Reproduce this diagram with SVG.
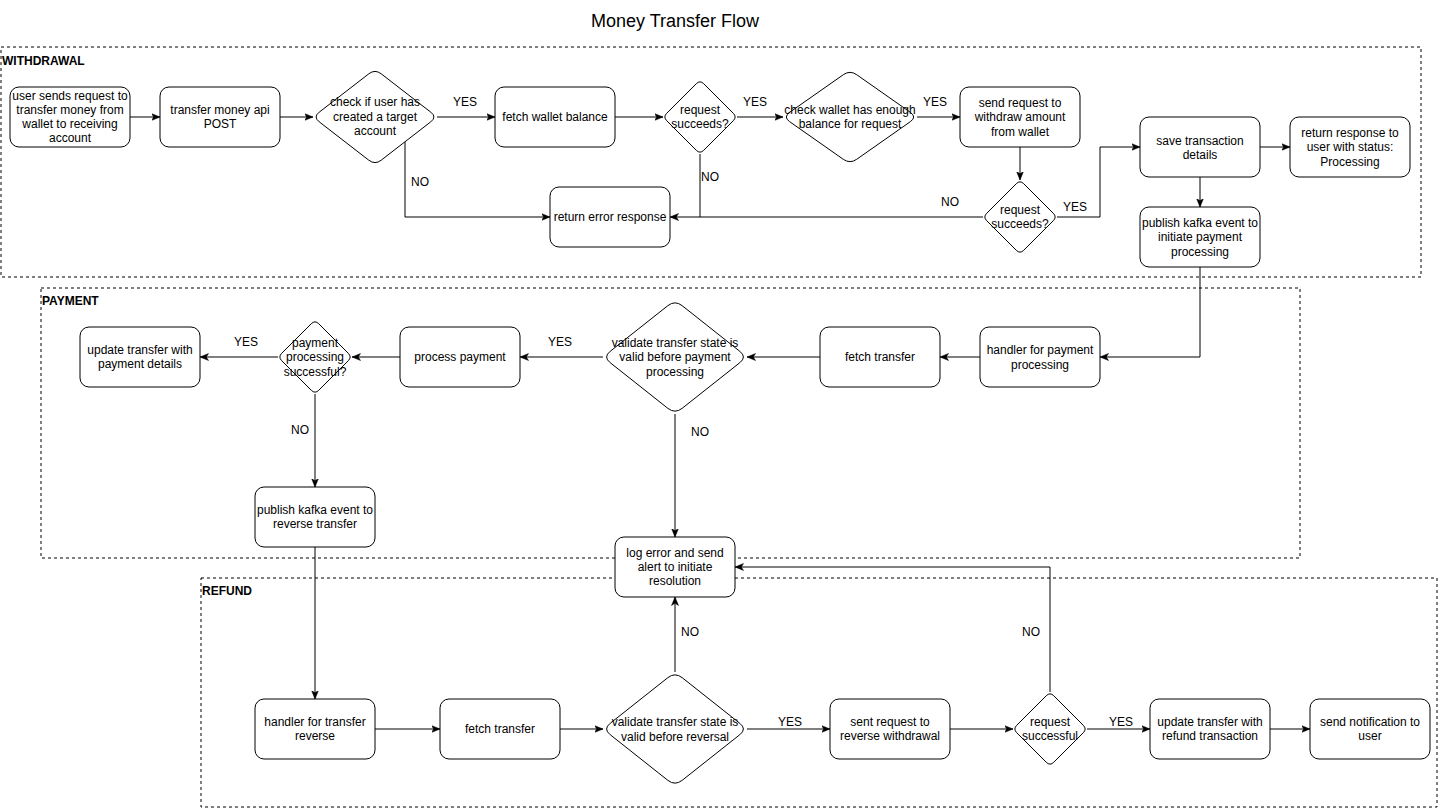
<svg xmlns="http://www.w3.org/2000/svg" width="1441" height="808" viewBox="0 0 1441 808">
<style>
text{font-family:"Liberation Sans",Arial,Helvetica,sans-serif;font-size:12px;fill:#000}
.t{text-anchor:middle}
.title{font-size:18px;text-anchor:middle}
.lane{font-weight:bold}
.box{fill:#fff;stroke:#000;stroke-width:1}
.cont{fill:none;stroke:#000;stroke-width:1;stroke-dasharray:3 3}
.edge{fill:none;stroke:#000;stroke-width:1}
.arr{marker-end:url(#ah)}
</style>
<defs>
<marker id="ah" markerWidth="9" markerHeight="8" viewBox="0 0 9 8" refX="8.5" refY="4" orient="auto" markerUnits="userSpaceOnUse">
<path d="M0,0.5 L8.5,4 L0,7.5 L2.2,4 Z" fill="#000" stroke="#000" stroke-width="0.5"/>
</marker>
<path id="dS" d="M-3.7,-33.3 Q0,-37 3.7,-33.3 L33.3,-3.7 Q37,0 33.3,3.7 L3.7,33.3 Q0,37 -3.7,33.3 L-33.3,3.7 Q-37,0 -33.3,-3.7 Z"/>
<path id="dC" d="M-6.2,-43.2 Q0,-48 6.2,-43.2 L55.8,-4.8 Q62,0 55.8,4.8 L6.2,43.2 Q0,48 -6.2,43.2 L-55.8,4.8 Q-62,0 -55.8,-4.8 Z"/>
<path id="dF" d="M-6.7,-42.3 Q0,-47 6.7,-42.3 L60.3,-4.7 Q67,0 60.3,4.7 L6.7,42.3 Q0,47 -6.7,42.3 L-60.3,4.7 Q-67,0 -60.3,-4.7 Z"/>
<path id="dL" d="M-7.2,-51.3 Q0,-57 7.2,-51.3 L64.8,-5.7 Q72,0 64.8,5.7 L7.2,51.3 Q0,57 -7.2,51.3 L-64.8,5.7 Q-72,0 -64.8,-5.7 Z"/>
</defs>
<rect width="1441" height="808" fill="#fff"/>
<text class="title" x="675" y="27">Money Transfer Flow</text>

<g id="containers">
<g id="withdrawal"><rect class="cont" x="1" y="47" width="1420" height="230"/><text class="lane" x="2" y="65">WITHDRAWAL</text></g>
<g id="payment"><rect class="cont" x="41" y="288" width="1259" height="270"/><text class="lane" x="42" y="305">PAYMENT</text></g>
<g id="refund"><rect class="cont" x="201" y="578" width="1236" height="229"/><text class="lane" x="202" y="595">REFUND</text></g>
</g>

<g id="connectors">
<path class="edge arr" d="M130,117 H160"/>
<path class="edge arr" d="M280,117 H313"/>
<path class="edge arr" d="M437,117 H495"/>
<path class="edge arr" d="M615,117 H663"/>
<path class="edge arr" d="M737,117 H783"/>
<path class="edge arr" d="M917,117 H960"/>
<path class="edge arr" d="M1020,147 V180"/>
<path class="edge arr" d="M983,217 H670"/>
<path class="edge arr" d="M405,142 V217 H550"/>
<path class="edge" d="M700,154 V217"/>
<path class="edge arr" d="M1057,217 H1100 V147 H1140"/>
<path class="edge arr" d="M1260,147 H1290"/>
<path class="edge arr" d="M1200,177 V207"/>
<path class="edge arr" d="M1200,267 V357 H1100"/>
<path class="edge arr" d="M980,357 H940"/>
<path class="edge arr" d="M820,357 H747"/>
<path class="edge arr" d="M603,357 H520"/>
<path class="edge arr" d="M400,357 H352"/>
<path class="edge arr" d="M278,357 H200"/>
<path class="edge arr" d="M315,394 V487"/>
<path class="edge arr" d="M675,414 V537"/>
<path class="edge arr" d="M315,547 V699"/>
<path class="edge arr" d="M375,729 H440"/>
<path class="edge arr" d="M560,729 H603"/>
<path class="edge arr" d="M675,672 V597"/>
<path class="edge arr" d="M747,729 H830"/>
<path class="edge arr" d="M950,729 H1013"/>
<path class="edge arr" d="M1050,692 V567 H735"/>
<path class="edge arr" d="M1087,729 H1150"/>
<path class="edge arr" d="M1270,729 H1310"/>
<g id="edge-labels">
<text class="t" x="465" y="106">YES</text>
<text class="t" x="420" y="186">NO</text>
<text class="t" x="755" y="106">YES</text>
<text class="t" x="935" y="106">YES</text>
<text class="t" x="710" y="181">NO</text>
<text class="t" x="950" y="206">NO</text>
<text class="t" x="1075" y="211">YES</text>
<text class="t" x="560" y="346">YES</text>
<text class="t" x="246" y="346">YES</text>
<text class="t" x="300" y="434">NO</text>
<text class="t" x="700" y="436">NO</text>
<text class="t" x="690" y="636">NO</text>
<text class="t" x="790" y="726">YES</text>
<text class="t" x="1031" y="636">NO</text>
<text class="t" x="1121" y="726">YES</text>
</g>
</g>

<g id="n-user-request"><rect class="box" x="10" y="87" width="120" height="60" rx="9"/>
<text class="t" x="70" y="100">user sends request to</text><text class="t" x="70" y="114">transfer money from</text><text class="t" x="70" y="128">wallet to receiving</text><text class="t" x="70" y="142">account</text></g>
<g id="n-api"><rect class="box" x="160" y="87" width="120" height="60" rx="9"/>
<text class="t" x="220" y="114">transfer money api</text><text class="t" x="220" y="128">POST</text></g>
<g id="n-check-target"><use href="#dC" class="box" transform="translate(375,117)"/>
<text class="t" x="375" y="106">check if user has</text><text class="t" x="375" y="121">created a target</text><text class="t" x="375" y="135">account</text></g>
<g id="n-fetch-balance"><rect class="box" x="495" y="87" width="120" height="60" rx="9"/>
<text class="t" x="555" y="121">fetch wallet balance</text></g>
<g id="n-req-succeeds-1"><use href="#dS" class="box" transform="translate(700,117)"/>
<text class="t" x="700" y="114">request</text><text class="t" x="700" y="128">succeeds?</text></g>
<g id="n-check-balance"><use href="#dF" class="box" transform="translate(850,117)"/>
<text class="t" x="850" y="114">check wallet has enough</text><text class="t" x="850" y="128">balance for request</text></g>
<g id="n-withdraw"><rect class="box" x="960" y="87" width="120" height="60" rx="9"/>
<text class="t" x="1020" y="107">send request to</text><text class="t" x="1020" y="121">withdraw amount</text><text class="t" x="1020" y="136">from wallet</text></g>
<g id="n-req-succeeds-2"><use href="#dS" class="box" transform="translate(1020,217)"/>
<text class="t" x="1020" y="214">request</text><text class="t" x="1020" y="228">succeeds?</text></g>
<g id="n-error"><rect class="box" x="550" y="187" width="120" height="60" rx="9"/>
<text class="t" x="610" y="221">return error response</text></g>
<g id="n-save"><rect class="box" x="1140" y="117" width="120" height="60" rx="9"/>
<text class="t" x="1200" y="145">save transaction</text><text class="t" x="1200" y="159">details</text></g>
<g id="n-return-processing"><rect class="box" x="1290" y="117" width="120" height="60" rx="9"/>
<text class="t" x="1350" y="137">return response to</text><text class="t" x="1350" y="151">user with status:</text><text class="t" x="1350" y="166">Processing</text></g>
<g id="n-publish-payment"><rect class="box" x="1140" y="207" width="120" height="60" rx="9"/>
<text class="t" x="1200" y="227">publish kafka event to</text><text class="t" x="1200" y="241">initiate payment</text><text class="t" x="1200" y="256">processing</text></g>

<g id="n-handler-payment"><rect class="box" x="980" y="327" width="120" height="60" rx="9"/>
<text class="t" x="1040" y="354">handler for payment</text><text class="t" x="1040" y="369">processing</text></g>
<g id="n-fetch-transfer-1"><rect class="box" x="820" y="327" width="120" height="60" rx="9"/>
<text class="t" x="880" y="361">fetch transfer</text></g>
<g id="n-validate-payment"><use href="#dL" class="box" transform="translate(675,357)"/>
<text class="t" x="675" y="347">validate transfer state is</text><text class="t" x="675" y="361">valid before payment</text><text class="t" x="675" y="376">processing</text></g>
<g id="n-process-payment"><rect class="box" x="400" y="327" width="120" height="60" rx="9"/>
<text class="t" x="460" y="361">process payment</text></g>
<g id="n-payment-success"><use href="#dS" class="box" transform="translate(315,357)"/>
<text class="t" x="315" y="347">payment</text><text class="t" x="315" y="361">processing</text><text class="t" x="315" y="376">successful?</text></g>
<g id="n-update-payment"><rect class="box" x="80" y="327" width="120" height="60" rx="9"/>
<text class="t" x="140" y="354">update transfer with</text><text class="t" x="140" y="368">payment details</text></g>
<g id="n-publish-reverse"><rect class="box" x="255" y="487" width="120" height="60" rx="9"/>
<text class="t" x="315" y="514">publish kafka event to</text><text class="t" x="315" y="528">reverse transfer</text></g>
<g id="n-log-error"><rect class="box" x="615" y="537" width="120" height="60" rx="9"/>
<text class="t" x="675" y="557">log error and send</text><text class="t" x="675" y="571">alert to initiate</text><text class="t" x="675" y="585">resolution</text></g>

<g id="n-handler-reverse"><rect class="box" x="255" y="699" width="120" height="60" rx="9"/>
<text class="t" x="315" y="726">handler for transfer</text><text class="t" x="315" y="740">reverse</text></g>
<g id="n-fetch-transfer-2"><rect class="box" x="440" y="699" width="120" height="60" rx="9"/>
<text class="t" x="500" y="733">fetch transfer</text></g>
<g id="n-validate-reversal"><use href="#dL" class="box" transform="translate(675,729)"/>
<text class="t" x="675" y="726">validate transfer state is</text><text class="t" x="675" y="741">valid before reversal</text></g>
<g id="n-reverse-withdrawal"><rect class="box" x="830" y="699" width="120" height="60" rx="9"/>
<text class="t" x="890" y="726">sent request to</text><text class="t" x="890" y="740">reverse withdrawal</text></g>
<g id="n-req-successful"><use href="#dS" class="box" transform="translate(1050,729)"/>
<text class="t" x="1050" y="726">request</text><text class="t" x="1050" y="740">successful</text></g>
<g id="n-update-refund"><rect class="box" x="1150" y="699" width="120" height="60" rx="9"/>
<text class="t" x="1210" y="726">update transfer with</text><text class="t" x="1210" y="740">refund transaction</text></g>
<g id="n-notify"><rect class="box" x="1310" y="699" width="120" height="60" rx="9"/>
<text class="t" x="1370" y="726">send notification to</text><text class="t" x="1370" y="740">user</text></g>
</svg>
